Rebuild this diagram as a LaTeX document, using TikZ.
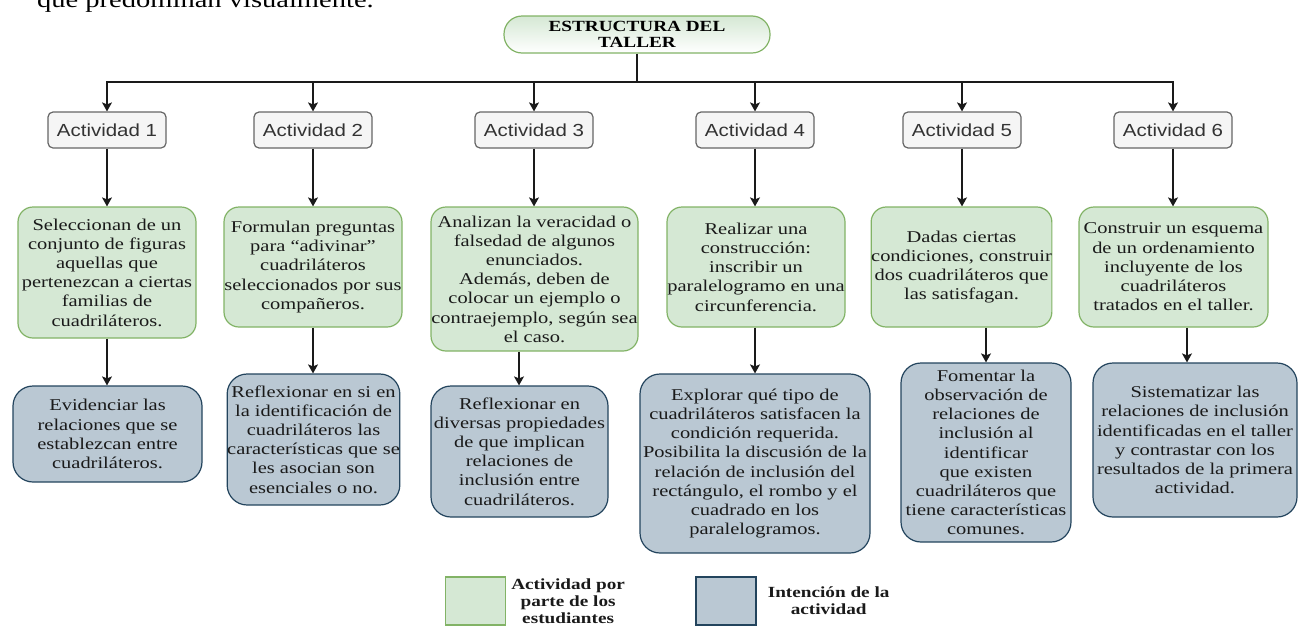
\documentclass[tikz,border=0pt]{standalone}
\usepackage{fontspec}
\setmainfont{Liberation Serif}[FakeStretch=1.24]
\setsansfont{Liberation Sans}[FakeStretch=1.17]
\usetikzlibrary{arrows.meta,positioning,calc}
\definecolor{actfill}{HTML}{D5E8D4}
\definecolor{actline}{HTML}{82B366}
\definecolor{intfill}{HTML}{BAC8D3}
\definecolor{intline}{HTML}{23445D}
\definecolor{boxfill}{HTML}{F5F5F5}
\definecolor{boxline}{HTML}{666666}
\definecolor{ink}{HTML}{1A1A1A}
\definecolor{sec}{HTML}{333333}

\begin{document}
\begin{tikzpicture}[
    x=1pt,y=-1pt,
    font=\fontsize{16.5}{19.2}\selectfont,
    titlebox/.style={draw=actline,line width=1.2pt,top color=actfill,
        bottom color=white,rounded corners=18pt,minimum width=266,
        minimum height=37,align=center,inner sep=0pt,
        font=\fontsize{15.5}{16}\selectfont\bfseries},
    actbox/.style={draw=boxline,fill=boxfill,line width=1.2pt,
        rounded corners=5pt,minimum width=118,minimum height=36,
        inner sep=0pt,text=sec,font=\sffamily\fontsize{17.5}{19}\selectfont},
    propbox/.style={draw=actline,fill=actfill,line width=1.2pt,
        rounded corners=15pt,align=center,inner sep=0pt,text=ink},
    intbox/.style={draw=intline,fill=intfill,line width=1.2pt,
        rounded corners=20pt,align=center,inner sep=0pt,text=ink},
    flecha/.style={draw=ink,line width=1.2pt,
        -{Stealth[length=9pt,width=10pt,inset=2pt]}},
    leyenda/.style={align=center,inner sep=0pt,text=ink,
        font=\fontsize{15.5}{17}\selectfont\bfseries},
  ]
  \useasboundingbox (0,0) rectangle (1299,627);

  % page text cut by the top edge
  \begin{scope}
    \clip (0,0) rectangle (1299,627);
    \node[anchor=base west,inner sep=0pt,
          font=\fontsize{23}{27}\selectfont] (encabezado) at (37,7)
      {que predominan visualmente.};
  \end{scope}

  % ============================================================= TITLE
  \node[titlebox] (titulo) at (637,34.5) {ESTRUCTURA DEL\\TALLER};
  \coordinate (bus) at (637,82);
  \draw[ink,line width=1.2pt] (titulo.south) -- (bus);

  % ============================================================= ACTIVIDADES
  \foreach \i/\cx in {1/107,2/313,3/534,4/755,5/962,6/1173}{
    \node[actbox] (act\i) at (\cx,130) {Actividad \i};
    \draw[flecha] (bus) -| (act\i.north);
  }

  % ============================================================= WHAT STUDENTS DO
  % #1 index  #2,#3 centre  #4 width  #5 height
  \foreach \i/\cx/\cy/\w/\h/\txt in {
      1/107/272.5/178/131/{Seleccionan de un\\conjunto de figuras\\aquellas que\\pertenezcan a ciertas\\familias de\\cuadriláteros.},
      2/313/267/178/120/{Formulan preguntas\\para “adivinar”\\cuadriláteros\\seleccionados por sus\\compañeros.},
      3/534.5/279/207/144/{Analizan la veracidad o\\falsedad de algunos\\enunciados.\\Además, deben de\\colocar un ejemplo o\\contraejemplo, según sea\\el caso.},
      4/756/267/178/120/{Realizar una\\construcción:\\inscribir un\\paralelogramo en una\\circunferencia.},
      5/961.5/267/177/120/{Dadas ciertas\\condiciones, construir\\dos cuadriláteros que\\las satisfagan.},
      6/1173.5/267/189/120/{Construir un esquema\\de un ordenamiento\\incluyente de los\\cuadriláteros\\tratados en el taller.}}{
    \node[propbox,minimum width=\w,minimum height=\h] (prop\i) at (\cx,\cy)
      {\txt};
    \draw[flecha] (act\i.south) -- (act\i.south |- prop\i.north);
  }

  % ============================================================= INTENTION
  \foreach \i/\cx/\cy/\w/\h/\txt in {
      1/107.5/434/189/96/{Evidenciar las\\relaciones que se\\establezcan entre\\cuadriláteros.},
      2/313.5/439.5/171/131/{Reflexionar en si en\\la identificación de\\cuadriláteros las\\características que se\\les asocian son\\esenciales o no.},
      3/519.5/451.5/177/131/{Reflexionar en\\diversas propiedades\\de que implican\\relaciones de\\inclusión entre\\cuadriláteros.},
      4/755/463.5/230/179/{Explorar qué tipo de\\cuadriláteros satisfacen la\\condición requerida.\\Posibilita la discusión de la\\relación de inclusión del\\rectángulo, el rombo y el\\cuadrado en los\\paralelogramos.},
      5/986/452.5/170/179/{Fomentar la\\observación de\\relaciones de\\inclusión al\\identificar\\que existen\\cuadriláteros que\\tiene características\\comunes.},
      6/1195/440/204/154/{Sistematizar las\\relaciones de inclusión\\identificadas en el taller\\y contrastar con los\\resultados de la primera\\actividad.}}{
    \node[intbox,minimum width=\w,minimum height=\h] (int\i) at (\cx,\cy)
      {\txt};
  }
  % arrows down to the intentions (x of each arrow)
  \foreach \i/\ax in {1/107,2/313,3/519,4/755,5/986,6/1187}{
    \coordinate (f\i) at (\ax,0);
    \draw[flecha] (f\i |- prop\i.south) -- (f\i |- int\i.north);
  }

  % ============================================================= LEGEND
  \node[propbox,rounded corners=0pt,minimum width=60,minimum height=48]
    (leyprop) at (475.5,601) {};
  \node[intbox,rounded corners=0pt,minimum width=60,minimum height=48]
    (leyint) at (726,601) {};
  \node[leyenda,right=5pt of leyprop] (txtprop)
    {Actividad por\\parte de los\\estudiantes};
  \node[leyenda,right=11pt of leyint] (txtint)
    {Intención de la\\actividad};

\end{tikzpicture}
\end{document}
